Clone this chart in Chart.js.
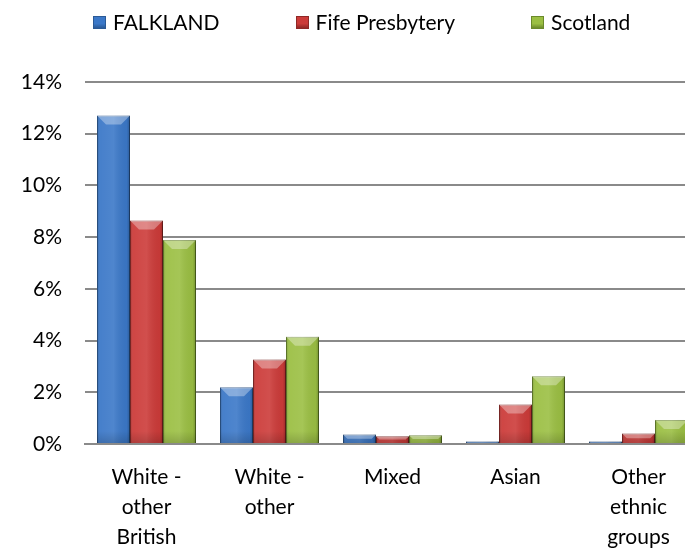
<!DOCTYPE html>
<html><head><meta charset="utf-8">
<script src="https://cdn.jsdelivr.net/npm/chart.js@4.4.0/dist/chart.umd.min.js"></script>
<style>
html,body{margin:0;padding:0;background:#fff;overflow:hidden}
#wrap{width:700px;height:548px;position:relative}
#legend{position:absolute;left:93px;top:11px;display:flex;align-items:center;font-family:Lato,sans-serif;font-size:21px;color:#000;white-space:nowrap;line-height:22px}
#legend .item{display:flex;align-items:center;margin-right:76px}
#legend .box{width:13px;height:13px;margin-right:7px;box-sizing:border-box;border:1px solid}
</style>
</head><body>
<div id="wrap"><canvas id="c"></canvas><div id="legend"></div></div>
<script>
// ---- data ----
const categories = [['White -','other','British'],['White -','other'],['Mixed'],['Asian'],['Other','ethnic','groups']];
const seriesNames = ['FALKLAND','Fife Presbytery','Scotland'];
const falkland = [12.7, 2.19, 0.37, 0.1, 0.1];
const fife     = [8.64, 3.27, 0.30, 1.53, 0.41];
const scotland = [7.89, 4.15, 0.34, 2.62, 0.93];
const yTicks   = [0, 2, 4, 6, 8, 10, 12, 14];

// ---- styles ----
const fills   = ['#3b78c8', '#cc3b39', '#9bbf43'];
const borders = ['#2b5a96', '#8f2826', '#6b8a2b'];
const FONT = 'Lato';

const seriesValues = [falkland, fife, scotland];

// HTML legend
const lg = document.getElementById('legend');
seriesNames.forEach((n,i)=>{
  const it = document.createElement('div'); it.className='item';
  const b = document.createElement('span'); b.className='box';
  b.style.background = 'linear-gradient(to bottom,' + fills[i] + ' 0%,' + fills[i] + ' 60%,' + borders[i] + ' 100%)';
  b.style.borderColor = borders[i];
  const t = document.createElement('span'); t.textContent = n;
  it.appendChild(b); it.appendChild(t); lg.appendChild(it);
});

const bevel = {
  id: 'bevel',
  beforeDatasetsDraw(chart){
    const c = chart.ctx; c.save();
    c.shadowColor = 'rgba(0,0,0,0.30)'; c.shadowBlur = 5; c.shadowOffsetX = 2; c.shadowOffsetY = 1;
  },
  afterDatasetsDraw(chart){
    const c = chart.ctx; c.restore();
    chart.data.datasets.forEach((ds,i)=>{
      chart.getDatasetMeta(i).data.forEach(el=>{
        const p = el.getProps(['x','y','base','width'], true);
        const x0 = p.x - p.width/2, x1 = p.x + p.width/2;
        const top = Math.min(p.y, p.base), bot = Math.max(p.y, p.base), h = bot - top;
        if (h <= 0) return;
        c.save();
        const g = c.createLinearGradient(x0, 0, x1, 0);
        g.addColorStop(0, 'rgba(0,0,0,0.22)');
        g.addColorStop(0.1, 'rgba(255,255,255,0.06)');
        g.addColorStop(0.5, 'rgba(255,255,255,0.10)');
        g.addColorStop(0.9, 'rgba(0,0,0,0.04)');
        g.addColorStop(1, 'rgba(0,0,0,0.25)');
        c.fillStyle = g; c.fillRect(x0, top, p.width, h);
        const gv = c.createLinearGradient(0, bot - 12, 0, bot);
        gv.addColorStop(0, 'rgba(0,0,0,0)');
        gv.addColorStop(1, 'rgba(0,0,0,0.15)');
        c.fillStyle = gv; c.fillRect(x0, Math.max(top, bot - 12), p.width, Math.min(12, h));
        const b = Math.min(9, h/2, p.width/2);
        c.beginPath();
        c.moveTo(x0, top); c.lineTo(x1, top); c.lineTo(x1 - b, top + b); c.lineTo(x0 + b, top + b); c.closePath();
        c.fillStyle = 'rgba(255,255,255,0.33)'; c.fill();
        c.restore();
      });
    });
  }
};

new Chart(document.getElementById('c'), {
  type: 'bar',
  data: {
    labels: categories,
    datasets: seriesNames.map((n,i)=>({
      label: n, data: seriesValues[i],
      backgroundColor: fills[i], borderColor: borders[i], borderWidth: 1,
      categoryPercentage: 0.805, barPercentage: 1.0
    }))
  },
  options: {
    responsive: true, maintainAspectRatio: false, animation: false,
    devicePixelRatio: 1,
    layout: { padding: { top: 82, left: 0, right: 0, bottom: 0 } },
    plugins: { legend: { display: false }, tooltip: { enabled: false } },
    scales: {
      x: {
        grid: { display: false, drawTicks: false },
        border: { display: true, color: '#8a8a8a', width: 2 },
        ticks: { color: '#000', font: { family: FONT, size: 21, lineHeight: 30/21 }, padding: 18, maxRotation: 0, autoSkip: false },
        afterFit(s){ s.height = 104; }
      },
      y: {
        min: yTicks[0], max: yTicks[yTicks.length-1],
        afterBuildTicks(s){ s.ticks = yTicks.map(v=>({value:v})); },
        ticks: { color: '#000', font: { family: FONT, size: 21 }, padding: 23, callback: v => v + '%' },
        grid: { color: '#8a8a8a', lineWidth: 2, drawTicks: false },
        border: { display: false },
        afterFit(s){ s.width = 85; }
      }
    }
  },
  plugins: [bevel]
});
</script>
</body></html>
